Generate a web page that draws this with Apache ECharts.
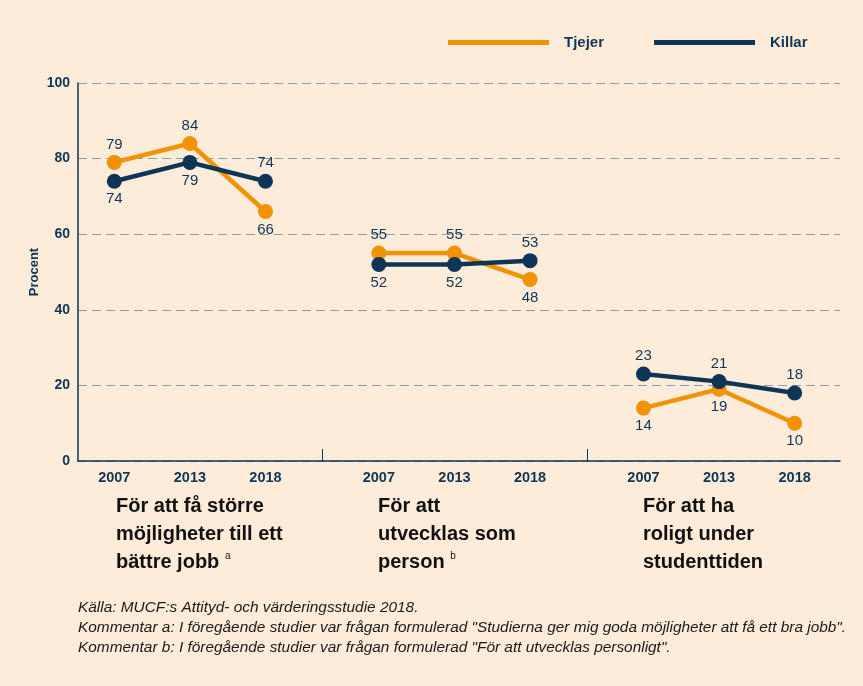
<!DOCTYPE html>
<html>
<head>
<meta charset="utf-8">
<script src="https://cdn.jsdelivr.net/npm/echarts@6/dist/echarts.min.js"></script>
<style>
  html, body { margin: 0; padding: 0; background: #fdecd9; }
  #main { width: 863px; height: 686px; }
</style>
</head>
<body>
<div id="main"></div>
<script>
// data
const years = ['2007', '2013', '2018']
const groups = [
  'För att få större\nmöjligheter till ett\nbättre jobb {sup|a}',
  'För att\nutvecklas som\nperson {sup|b}',
  'För att ha\nroligt under\nstudenttiden'
]
const tjejer = [[79, 84, 66], [55, 55, 48], [14, 19, 10]]
const killar = [[74, 79, 74], [52, 52, 53], [23, 21, 18]]
// where each number label sits
const tjejerLabelPos = [['top', 'top', 'bottom'], ['top', 'top', 'bottom'], ['bottom', 'bottom', 'bottom']]
const killarLabelPos = [['bottom', 'bottom', 'top'], ['bottom', 'bottom', 'top'], ['top', 'top', 'top']]
const notes = [
  'Källa: MUCF:s Attityd- och värderingsstudie 2018.',
  'Kommentar a: I föregående studier var frågan formulerad "Studierna ger mig goda möjligheter att få ett bra jobb".',
  'Kommentar b: I föregående studier var frågan formulerad "För att utvecklas personligt".'
]

const ORANGE = '#f39200'
const NAVY = '#0f3556'
const FONT = '"Liberation Sans", Arial, sans-serif'
const GROUP_STEP = 3.5

const pos = (g, i) => g * GROUP_STEP + i
const tickVals = []
groups.forEach((_, g) => years.forEach((_, i) => tickVals.push(pos(g, i))))
const sepVals = [2.75, 2.75 + GROUP_STEP]

function makeSeries(name, color, values, labelPos) {
  return values.map((grp, g) => ({
    name: name,
    type: 'line',
    symbol: 'circle',
    symbolSize: 15,
    color: color,
    lineStyle: { width: 4.5, color: color },
    itemStyle: { color: color },
    z: name === 'Killar' ? 3 : 2,
    label: {
      show: true,
      color: NAVY,
      fontSize: 15,
      fontFamily: FONT,
      distance: 3
    },
    data: grp.map((v, i) => ({
      value: [pos(g, i), v],
      label: { position: labelPos[g][i] }
    }))
  }))
}

const myChart = echarts.init(document.getElementById('main'))

let option = {
  backgroundColor: '#fdecd9',
  animation: false,
  textStyle: { fontFamily: FONT },
  grid: { left: 78, right: 23, top: 83, bottom: 225 },
  legend: {
    left: 443,
    top: 30,
    icon: 'rect',
    itemWidth: 101,
    itemHeight: 5,
    itemGap: 50,
    textStyle: { color: NAVY, fontWeight: 'bold', fontSize: 15, padding: [0, 0, 0, 10] },
    data: ['Tjejer', 'Killar']
  },
  xAxis: {
    type: 'value',
    min: -0.48,
    max: 9.6,
    splitLine: { show: false },
    axisLine: { show: true, onZero: false, lineStyle: { color: NAVY, width: 1.5 } },
    axisTick: {
      show: true,
      inside: true,
      length: 12,
      customValues: sepVals,
      lineStyle: { color: NAVY, width: 1 }
    },
    axisLabel: {
      customValues: tickVals,
      color: NAVY,
      fontWeight: 'bold',
      fontSize: 14.5,
      margin: 9,
      formatter: v => years[Math.round(v - Math.floor(v / GROUP_STEP) * GROUP_STEP)]
    }
  },
  yAxis: {
    type: 'value',
    min: 0,
    max: 100,
    interval: 20,
    name: 'Procent',
    nameLocation: 'middle',
    nameGap: 37,
    nameMoveOverlap: false,
    nameTextStyle: { color: NAVY, fontWeight: 'bold', fontSize: 13 },
    axisLine: { show: true, onZero: false, lineStyle: { color: NAVY, width: 1.5 } },
    axisTick: { show: false },
    axisLabel: { color: NAVY, fontWeight: 'bold', fontSize: 14, margin: 8 },
    splitLine: { lineStyle: { color: '#8a9ab0', type: [9, 5], width: 1 } }
  },
  graphic: [
    ...groups.map((t, g) => ({
      type: 'text',
      left: [116, 378, 643][g],
      top: 492,
      style: {
        text: t,
        fill: '#111',
        fontSize: 20,
        fontFamily: FONT,
        fontWeight: 'bold',
        lineHeight: 28,
        rich: {
          sup: { fontSize: 10, fontFamily: FONT, fill: '#111', lineHeight: 28, padding: [0, 0, 12, 0] }
        }
      }
    })),
    ...notes.map((t, i) => ({
      type: 'text',
      left: 78,
      top: 600 + i * 20,
      style: { text: t, fill: '#1a1a1a', fontSize: 15.4, fontStyle: 'italic', fontFamily: FONT }
    }))
  ],
  series: [
    ...makeSeries('Tjejer', ORANGE, tjejer, tjejerLabelPos),
    ...makeSeries('Killar', NAVY, killar, killarLabelPos)
  ]
}

option && myChart.setOption(option)
</script>
</body>
</html>
